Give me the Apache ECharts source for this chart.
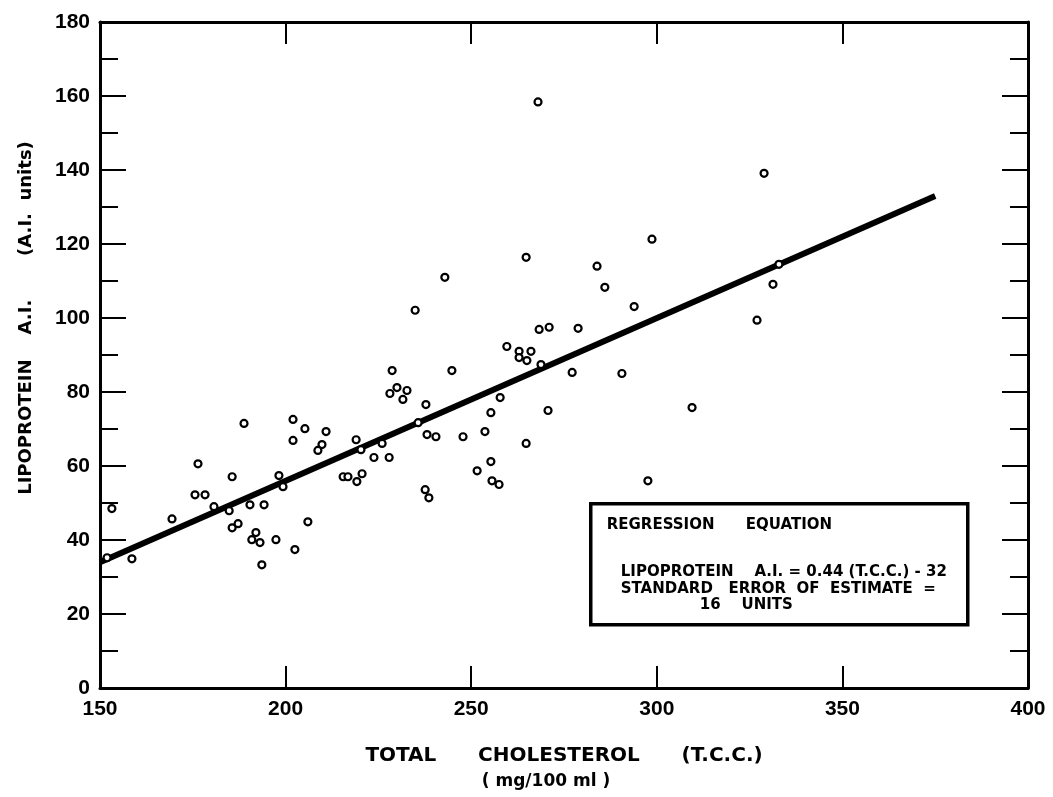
<!DOCTYPE html>
<html>
<head>
<meta charset="utf-8">
<script src="https://cdn.jsdelivr.net/npm/echarts@6/dist/echarts.min.js"></script>
<style>
html,body{margin:0;padding:0;background:#fff;}
#c{width:1053px;height:797px;}
</style>
</head>
<body>
<div id="c"></div>
<script>
// Total cholesterol (mg/100 ml) of each subject
var tcc = [
  151.9,153.2,158.6,169.4,176.4,175.6,178.3,180.7,184.8,185.6,
  185.6,187.2,188.8,190.4,192.0,190.9,193.1,193.6,194.2,197.4,
  198.2,199.3,202.0,202.0,202.5,205.2,206.0,209.8,208.7,210.9,
  264.8,242.9,234.9,268.3,271.0,259.6,262.9,262.9,266.1,265.0,
  268.8,228.7,244.8,230.0,228.1,232.7,231.6,237.8,257.8,255.3,
  270.7,219.0,226.0,220.3,235.7,238.1,240.5,247.8,253.7,264.8,
  223.8,227.9,255.3,251.6,215.5,216.8,220.6,219.2,255.6,257.5,
  237.6,238.6,268.0,298.7,283.9,286.0,293.9,278.8,277.2,290.6,
  328.9,331.3,332.9,327.0,309.5,297.6
];
// Lipoprotein A.I. (A.I. units) of each subject
var lipoAI = [
  35.2,48.5,34.9,45.7,60.6,52.2,52.2,49.0,47.9,57.1,
  43.3,44.4,71.5,49.5,42.0,40.1,39.3,33.3,49.5,40.1,
  57.4,54.4,72.6,66.9,37.4,70.1,44.9,65.8,64.2,69.3,
  116.4,111.0,102.1,96.9,97.5,92.3,91.0,89.3,91.0,88.5,
  87.4,85.8,85.8,81.2,79.6,80.4,78.0,76.6,78.5,74.4,
  75.0,67.1,66.1,64.4,71.7,68.5,67.9,67.9,69.3,66.1,
  62.3,62.3,61.2,58.7,57.1,57.1,57.9,55.8,56.0,55.0,
  53.6,51.4,158.4,121.3,114.0,108.3,103.1,97.2,85.3,85.0,
  139.1,109.1,114.5,99.4,75.8,56.0
];
// Regression line end points (T.C.C., A.I.)
var lineX = [150, 375];
var lineY = [34, 133];
// Axis ticks
var xTicks = [150, 200, 250, 300, 350, 400];
var yTicks = [0, 20, 40, 60, 80, 100, 120, 140, 160, 180];

var FONT = '"Liberation Sans", Arial, sans-serif';
var DJ = '"DejaVu Sans", sans-serif';
var pts = tcc.map(function (v, i) { return [v, lipoAI[i]]; });
var lineData = lineX.map(function (v, i) { return [v, lineY[i]]; });

var axisLine = { show: true, onZero: false, lineStyle: { color: '#000', width: 3 } };
function xAx(pos, showLabel) {
  return {
    type: 'value', position: pos,
    min: xTicks[0], max: xTicks[xTicks.length - 1], interval: 50,
    axisLine: axisLine,
    axisTick: { show: true, inside: true, length: 22, lineStyle: { color: '#000', width: 2 } },
    axisLabel: { show: showLabel, color: '#000', fontFamily: FONT, fontSize: 21, fontWeight: 'bold', margin: 11 },
    splitLine: { show: false }
  };
}
function yAx(pos, showLabel) {
  return {
    type: 'value', position: pos,
    min: yTicks[0], max: yTicks[yTicks.length - 1], interval: 20,
    axisLine: axisLine,
    axisTick: { show: true, inside: true, length: 26, lineStyle: { color: '#000', width: 2 } },
    minorTick: { show: true, splitNumber: 2, length: 18, lineStyle: { color: '#000', width: 2 } },
    axisLabel: { show: showLabel, color: '#000', fontFamily: FONT, fontSize: 21, fontWeight: 'bold', margin: 10 },
    splitLine: { show: false }
  };
}

var chart = echarts.init(document.getElementById('c'), null, { renderer: 'canvas' });
chart.setOption({
  backgroundColor: '#fff',
  animation: false,
  grid: { left: 100, right: 25, top: 22, bottom: 109, containLabel: false },
  xAxis: [
    Object.assign(xAx('bottom', true), {
      name: 'TOTAL      CHOLESTEROL      (T.C.C.)',
      nameLocation: 'middle', nameGap: 58,
      nameTextStyle: { color: '#000', fontFamily: DJ, fontSize: 20, fontWeight: 'bold' }
    }),
    xAx('top', false)
  ],
  yAxis: [yAx('left', true), yAx('right', false)],
  series: [
    {
      type: 'line', data: lineData, xAxisIndex: 0, yAxisIndex: 0,
      symbol: 'none', lineStyle: { color: '#000', width: 6 }, z: 3
    },
    {
      type: 'scatter', data: pts, xAxisIndex: 0, yAxisIndex: 0,
      symbol: 'circle', symbolSize: 7,
      itemStyle: { color: '#fff', borderColor: '#000', borderWidth: 2.2, opacity: 1 }, z: 4
    },
    {
      type: 'scatter', data: [], xAxisIndex: 1, yAxisIndex: 1, silent: true
    }
  ],
  graphic: [
    {
      type: 'text', x: 546, y: 782,
      style: { text: '( mg/100 ml )', fill: '#000', font: 'bold 17px ' + DJ, textAlign: 'center', textVerticalAlign: 'middle' }
    },
    {
      type: 'text', x: 26, y: 318, rotation: Math.PI / 2,
      style: { text: 'LIPOPROTEIN    A.I.       (A.I.  units)', fill: '#000', font: 'bold 18px ' + DJ, textAlign: 'center', textVerticalAlign: 'middle' }
    },
    {
      type: 'group', left: 589, top: 502, z: 10,
      children: [
        { type: 'rect', shape: { x: 0, y: 0, width: 377, height: 121 },
          style: { fill: '#fff', stroke: '#000', lineWidth: 3.5 } },
        { type: 'text', x: 16, y: 21,
          style: { text: 'REGRESSION      EQUATION', fill: '#000', font: 'bold 15px ' + DJ, textVerticalAlign: 'middle' } },
        { type: 'text', x: 30, y: 68,
          style: { text: 'LIPOPROTEIN    A.I. = 0.44 (T.C.C.) - 32', fill: '#000', font: 'bold 15px ' + DJ, textVerticalAlign: 'middle' } },
        { type: 'text', x: 30, y: 85,
          style: { text: 'STANDARD   ERROR  OF  ESTIMATE  =', fill: '#000', font: 'bold 15px ' + DJ, textVerticalAlign: 'middle' } },
        { type: 'text', x: 109, y: 101,
          style: { text: '16    UNITS', fill: '#000', font: 'bold 15px ' + DJ, textVerticalAlign: 'middle' } }
      ]
    }
  ]
});
</script>
</body>
</html>
